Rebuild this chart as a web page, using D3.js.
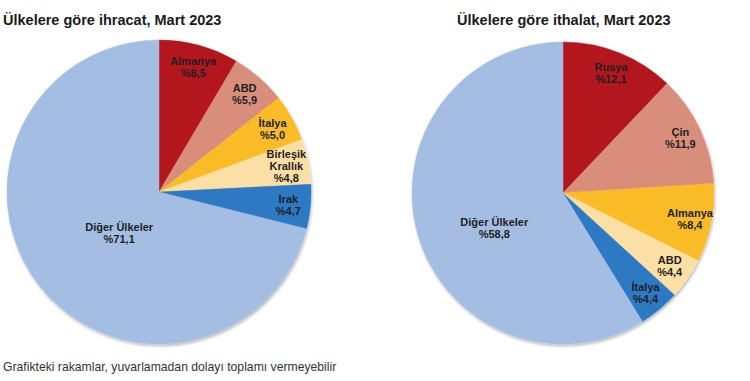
<!DOCTYPE html>
<html>
<head>
<meta charset="utf-8">
<script src="https://cdn.jsdelivr.net/npm/d3@7"></script>
<style>
  html, body { margin: 0; padding: 0; background: #ffffff; }
  svg { display: block; }
  text { font-family: "Liberation Sans", Arial, sans-serif; }
</style>
</head>
<body>
<svg id="chart" width="750" height="381"></svg>
<script>
// ---- data ----
const exportTitle = "Ülkelere göre ihracat, Mart 2023";
const exportCountries = ["Almanya", "ABD", "İtalya", "Birleşik Krallık", "Irak", "Diğer Ülkeler"];
const exportValues = [8.5, 5.9, 5.0, 4.8, 4.7, 71.1];
const exportColors = ["#B3191D", "#D98E7B", "#F9BC27", "#FCDFA5", "#2F79C3", "#A4BEE3"];

const importTitle = "Ülkelere göre ithalat, Mart 2023";
const importCountries = ["Rusya", "Çin", "Almanya", "ABD", "İtalya", "Diğer Ülkeler"];
const importValues = [12.1, 11.9, 8.4, 4.4, 4.4, 58.8];
const importColors = ["#B3191D", "#D98E7B", "#F9BC27", "#FCDFA5", "#2F79C3", "#A4BEE3"];

const footnote = "Grafikteki rakamlar, yuvarlamadan dolayı toplamı vermeyebilir";

// label line breaks for long names
const labelLines = {"Birleşik Krallık": ["Birleşik", "Krallık"]};

const svg = d3.select("#chart");
const defs = svg.append("defs");
const f = defs.append("filter").attr("id", "shadow")
  .attr("x", "-10%").attr("y", "-10%").attr("width", "120%").attr("height", "120%");
f.append("feDropShadow").attr("dx", 1).attr("dy", 2).attr("stdDeviation", 1.6)
  .attr("flood-color", "#000").attr("flood-opacity", 0.28);

function fmt(v) { return "%" + d3.format(".1f")(v).replace(".", ","); }

function drawPie(cfg) {
  const data = cfg.names.map((n, i) => ({name: n, value: cfg.values[i], color: cfg.colors[i]}));
  const pie = d3.pie().value(d => d.value).sort(null).startAngle(0).endAngle(2 * Math.PI);
  const arcs = pie(data);
  const arc = d3.arc().innerRadius(0).outerRadius(cfg.r);
  const g = svg.append("g").attr("transform", `translate(${cfg.cx},${cfg.cy})`);

  const slices = g.append("g").attr("filter", "url(#shadow)");
  slices.selectAll("path").data(arcs).join("path")
    .attr("d", arc)
    .attr("fill", d => d.data.color)
    .attr("stroke", d => d.data.color)
    .attr("stroke-width", 0.5);

  const labels = g.append("g");
  arcs.forEach(d => {
    const big = d.data.value > 50;
    const lr = big ? cfg.r * cfg.bigLabelR : cfg.r * cfg.smallLabelR;
    const off = big ? cfg.bigLabelAngle * Math.PI / 180 : 0;
    const mid = (d.startAngle + d.endAngle) / 2 + off;
    const x = lr * Math.sin(mid), y = -lr * Math.cos(mid);
    const lines = (labelLines[d.data.name] || [d.data.name]).concat([fmt(d.data.value)]);
    const lh = 12;
    const t = labels.append("text")
      .attr("text-anchor", "middle")
      .attr("font-size", 11)
      .attr("font-weight", "bold")
      .attr("fill", "#1f1f24");
    lines.forEach((ln, i) => {
      t.append("tspan")
        .attr("x", x)
        .attr("y", y + (i - (lines.length - 1) / 2) * lh + 4)
        .text(ln);
    });
  });

  svg.append("text")
    .attr("x", cfg.titleX).attr("y", 25)
    .attr("font-size", 14.5).attr("font-weight", "bold")
    .attr("fill", "#1a1a1a")
    .text(cfg.title);
}

drawPie({title: exportTitle, names: exportCountries, values: exportValues, colors: exportColors,
  cx: 159, cy: 192, r: 152, titleX: 3, smallLabelR: 0.855, bigLabelR: 0.377, bigLabelAngle: -8});
drawPie({title: importTitle, names: importCountries, values: importValues, colors: importColors,
  cx: 563, cy: 193, r: 151, titleX: 457, smallLabelR: 0.858, bigLabelR: 0.51, bigLabelAngle: -11});

svg.append("text")
  .attr("x", 3).attr("y", 371)
  .attr("font-size", 12.2)
  .attr("fill", "#333")
  .text(footnote);
</script>
</body>
</html>
